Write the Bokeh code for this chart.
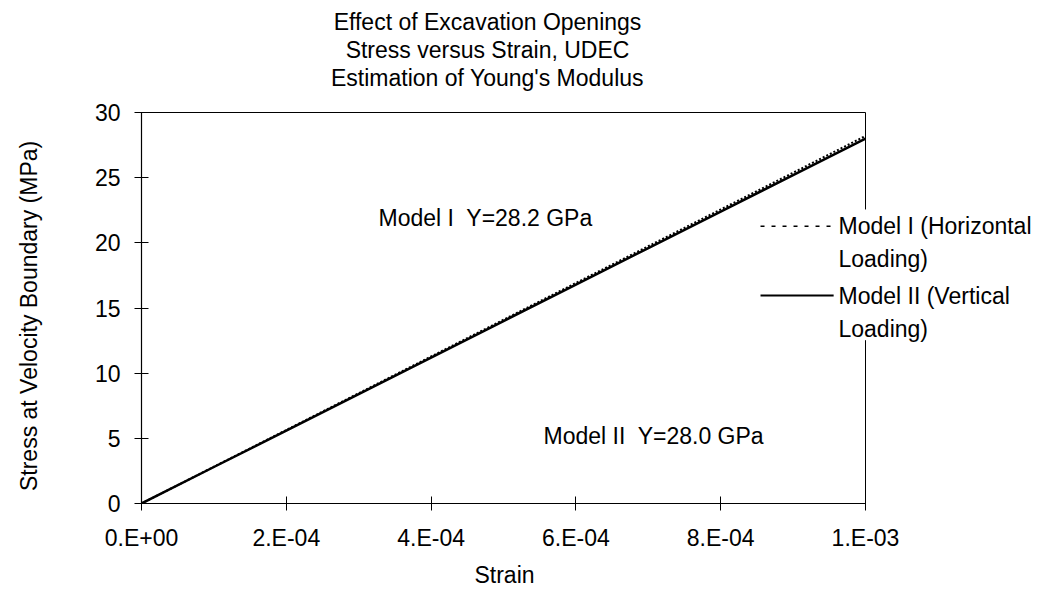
from bokeh.plotting import figure
from bokeh.models import Range1d, FixedTicker, Label
from bokeh.embed import file_html
from bokeh.resources import INLINE

# Stress-strain curves from UDEC runs
strain = [0.0, 1e-4, 2e-4, 3e-4, 4e-4, 5e-4, 6e-4, 7e-4, 8e-4, 9e-4, 1e-3]
stress_model_1 = [0.0, 2.82, 5.64, 8.46, 11.28, 14.10, 16.92, 19.74, 22.56, 25.38, 28.2]
stress_model_2 = [0.0, 2.80, 5.60, 8.40, 11.20, 14.00, 16.80, 19.60, 22.40, 25.20, 28.0]

series_names = ["Model I (Horizontal\nLoading)", "Model II (Vertical\nLoading)"]
modulus_notes = ["Model I\u00a0 Y=28.2 GPa", "Model II\u00a0 Y=28.0 GPa"]
title_lines = ["Effect of Excavation Openings",
               "Stress versus Strain, UDEC",
               "Estimation of Young's Modulus"]
x_title = "Strain"
y_title = "Stress at Velocity Boundary (MPa)"

x_ticks = [0.0, 2e-4, 4e-4, 6e-4, 8e-4, 1e-3]
x_tick_labels = ["0.E+00", "2.E-04", "4.E-04", "6.E-04", "8.E-04", "1.E-03"]
y_ticks = [0, 5, 10, 15, 20, 25, 30]

FONT = "Liberation Sans"
FS = "23px"
NBSP = "\u00a0"

W, H = 1046, 590
# page positions of the plotting box (left, right, top, bottom)
LEFT, RIGHT, TOP, BOTTOM = 141, 865, 112, 503
X_MAX, Y_MAX = 1e-3, 30.0

# The drawing area runs to the top and right page edges so that the title,
# notes and legend texts can sit there; the ranges put the data box in place.
x_end = X_MAX * (W - LEFT) / (RIGHT - LEFT)
y_end = Y_MAX * BOTTOM / (BOTTOM - TOP)

p = figure(width=W, height=H, output_backend="svg", toolbar_location=None,
           title_location=None,
           x_range=Range1d(0, x_end), y_range=Range1d(0, y_end))
p.min_border_left = LEFT
p.min_border_right = 0
p.min_border_top = 0
p.min_border_bottom = H - BOTTOM
p.background_fill_color = "white"
p.border_fill_color = "white"
p.outline_line_color = None
p.grid.visible = False

for ax in (p.xaxis[0], p.yaxis[0]):
    ax.axis_line_color = "black"
    ax.axis_line_width = 1.2
    ax.major_tick_in = 7
    ax.major_tick_out = 7
    ax.major_tick_line_color = "black"
    ax.minor_tick_line_color = None
    ax.major_label_text_font = FONT
    ax.major_label_text_font_size = FS
    ax.major_label_text_color = "black"
    ax.axis_label_text_font = FONT
    ax.axis_label_text_font_size = FS
    ax.axis_label_text_font_style = "normal"
    ax.axis_label_text_color = "black"

# Axis titles are centred on the whole drawing area; trailing no-break spaces
# bring the visible words back to the middle of the data box.
p.xaxis.bounds = (0, X_MAX)
p.xaxis.ticker = FixedTicker(ticks=x_ticks)
p.xaxis.major_label_overrides = {t: s for t, s in zip(x_ticks, x_tick_labels)}
p.xaxis.major_label_standoff = 14
p.xaxis.axis_label = x_title + NBSP * 28
p.xaxis.axis_label_standoff = 8

p.yaxis.bounds = (0, Y_MAX)
p.yaxis.ticker = FixedTicker(ticks=y_ticks)
p.yaxis.major_label_standoff = 14
p.yaxis.axis_label = y_title + NBSP * 20
p.yaxis.axis_label_standoff = 50

# top and right edges of the plotting box (the right edge stops behind the legend)
p.line([0, X_MAX], [Y_MAX, Y_MAX], line_color="black", line_width=1)
p.segment(x0=[X_MAX, X_MAX], y0=[0, 22.56], x1=[X_MAX, X_MAX], y1=[12.53, Y_MAX],
          line_color="black", line_width=1)

# curves
p.line(strain, stress_model_2, line_color="black", line_width=2.5)
p.line(strain, stress_model_1, line_color="black", line_width=2, line_dash="2 2")


def text(px, py, s, align="left", **kw):
    """Place a text at a page position (px, py measured from the top-left)."""
    lab = Label(x=px - LEFT, y=BOTTOM - py, x_units="screen", y_units="screen",
                text=s, text_font=FONT, text_font_size=FS,
                text_color="black", text_align=align, text_baseline="middle", **kw)
    p.add_layout(lab)
    return lab


# title
for py, s in zip([21, 49, 77], title_lines):
    text(487, py, s, align="center")

# modulus notes
text(378, 217, modulus_notes[0])
text(543, 435, modulus_notes[1])

# legend
p.line([8.55e-4, 9.56e-4], [21.27, 21.27], line_color="black", line_width=1.5, line_dash="4 7")
p.line([8.55e-4, 9.56e-4], [15.95, 15.95], line_color="black", line_width=2)
text(838, 242, series_names[0], text_line_height=1.3)
text(838, 312, series_names[1], text_line_height=1.3)

open("out.html", "w").write(file_html(p, INLINE))
